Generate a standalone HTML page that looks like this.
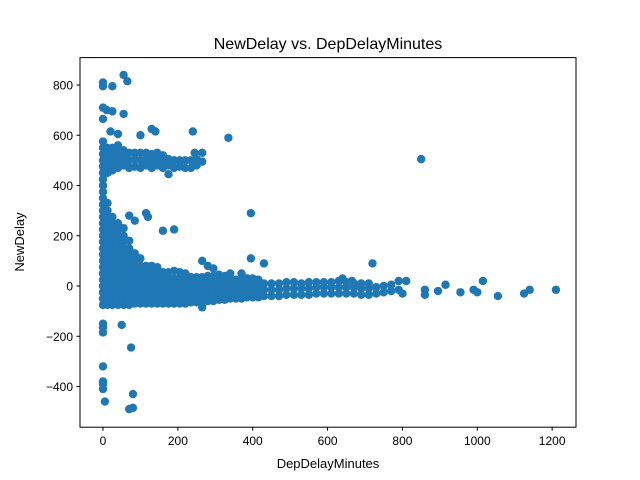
<!DOCTYPE html>
<html><head><meta charset="utf-8"><style>
body{margin:0;background:#fff}
svg{display:block;font-family:"Liberation Sans","DejaVu Sans",sans-serif}
</style></head><body>
<svg id="chart" width="640" height="480">
<rect width="640" height="480" fill="#fff"/>
<g id="marks"></g>
<rect x="80" y="57.6" width="496" height="369.6" fill="none" stroke="#000" stroke-width="1"/>
<g id="xt"></g>
<g id="yt"></g>
<text x="328" y="49" text-anchor="middle" font-size="16">NewDelay vs. DepDelayMinutes</text>
<text x="328" y="468" text-anchor="middle" font-size="13">DepDelayMinutes</text>
<text transform="translate(24,242) rotate(-90)" text-anchor="middle" font-size="13">NewDelay</text>
</svg>
<script>
const xTicks=[0,200,400,600,800,1000,1200];
const yTicks=[-400,-200,0,200,400,600,800];
const points=[
[0,-75],[0,-50],[0,-25],[0,0],[0,25],[0,50],[0,75],[0,100],[0,125],[0,150],[0,175],[0,200],[0,225],[0,250],[0,275],[0,300],[0,325],[0,350],[0,375],[0,400],[0,425],[0,450],[0,475],[0,500],[0,525],[0,550],[0,575],
[12,-75],[12,-50],[12,-25],[12,0],[12,25],[12,50],[12,75],[12,100],[12,125],[12,150],[12,175],[12,200],[12,225],[12,250],[12,275],[12,300],[12,330],[12,450],[12,475],[12,500],[12,525],[12,550],
[25,-75],[25,-50],[25,-25],[25,0],[25,25],[25,50],[25,75],[25,100],[25,125],[25,150],[25,175],[25,200],[25,225],[25,250],[25,275],[25,460],[25,490],[25,520],[25,550],
[40,-75],[40,-50],[40,-25],[40,0],[40,25],[40,50],[40,75],[40,100],[40,125],[40,150],[40,175],[40,200],[40,225],[40,250],[40,470],[40,500],[40,530],[40,560],
[55,-75],[55,-50],[55,-25],[55,0],[55,25],[55,50],[55,75],[55,100],[55,125],[55,150],[55,175],[55,200],[55,230],[55,480],[55,510],[55,540],
[70,-75],[70,-50],[70,-25],[70,0],[70,25],[70,50],[70,75],[70,100],[70,125],[70,150],[70,180],[70,280],[70,470],[70,500],[70,530],
[85,-70],[85,-45],[85,-20],[85,5],[85,30],[85,55],[85,80],[85,105],[85,130],[85,260],[85,475],[85,505],[85,530],
[100,-70],[100,-45],[100,-20],[100,5],[100,30],[100,55],[100,80],[100,110],[100,470],[100,500],[100,530],
[115,-70],[115,-45],[115,-20],[115,5],[115,30],[115,55],[115,80],[115,480],[115,505],[115,530],
[130,-70],[130,-45],[130,-20],[130,5],[130,30],[130,55],[130,80],[130,470],[130,500],[130,525],
[145,-70],[145,-45],[145,-20],[145,5],[145,30],[145,55],[145,75],[145,480],[145,505],[145,530],
[160,-70],[160,-45],[160,-20],[160,5],[160,30],[160,55],[160,470],[160,500],[160,520],
[175,-70],[175,-45],[175,-20],[175,5],[175,30],[175,55],[175,445],[175,480],[175,505],
[190,-70],[190,-45],[190,-20],[190,5],[190,30],[190,60],[190,470],[190,500],
[205,-70],[205,-45],[205,-20],[205,5],[205,30],[205,55],[205,475],[205,500],
[220,-70],[220,-45],[220,-20],[220,5],[220,30],[220,50],[220,470],[220,500],
[235,-65],[235,-40],[235,-15],[235,10],[235,35],[235,470],[235,500],
[250,-65],[250,-40],[250,-15],[250,10],[250,35],[250,480],[250,505],
[265,-65],[265,-40],[265,-15],[265,10],[265,35],[265,100],
[280,-60],[280,-35],[280,-10],[280,15],[280,40],[280,80],
[295,-60],[295,-35],[295,-10],[295,15],[295,40],[295,70],
[310,-55],[310,-30],[310,-5],[310,20],[310,45],
[325,-55],[325,-30],[325,-5],[325,20],[325,40],
[340,-50],[340,-25],[340,0],[340,25],[340,50],
[355,-50],[355,-25],[355,0],[355,25],
[370,-50],[370,-25],[370,0],[370,25],[370,50],
[385,-45],[385,-20],[385,5],[385,30],
[400,-45],[400,-20],[400,5],[400,30],
[415,-45],[415,-20],[415,5],[415,25],
[430,-40],[430,-15],[430,10],
[450,-40],[450,-15],[450,10],
[470,-40],[470,-15],[470,10],
[490,-35],[490,-10],[490,15],
[510,-35],[510,-10],[510,15],
[530,-35],[530,-10],[530,10],
[550,-35],[550,-10],[550,15],
[570,-30],[570,-5],[570,15],
[590,-30],[590,-5],[590,15],
[610,-30],[610,-5],[610,15],
[630,-30],[630,-5],[630,20],
[650,-30],[650,-5],[650,15],
[670,-30],[670,-5],[670,10],
[690,-35],[690,-10],[690,10],
[710,-35],[710,-10],[710,10],
[730,-30],[730,-5],[750,-25],[750,0],[770,-20],[770,5],[790,-15],[800,-30],
[0,810],[0,795],[25,795],[55,840],[65,815],[0,710],[10,700],[25,695],[55,685],[0,665],[20,615],[40,605],[100,600],[130,625],[140,615],[240,615],[335,590],[850,505],[395,290],[115,290],[120,275],[160,220],[190,225],[395,110],[430,90],[720,90],[245,530],[265,530],[265,495],
[0,-150],[0,-165],[0,-185],[50,-155],[75,-245],[0,-320],[0,-380],[0,-390],[0,-410],[5,-460],[80,-430],[70,-490],[80,-485],[265,-85],
[860,-15],[860,-35],[895,-20],[915,5],[955,-25],[990,-15],[1000,-25],[1015,20],[1055,-40],[1125,-30],[1140,-15],[1210,-15],[810,20],[790,20],[665,20],[640,30]
];
const sx=v=>103+v*0.3743;
const sy=v=>286-v*0.25125;
const NS="http://www.w3.org/2000/svg";
const marks=document.getElementById('marks');
points.forEach(p=>{
  const c=document.createElementNS(NS,'circle');
  c.setAttribute('cx',sx(p[0]));c.setAttribute('cy',sy(p[1]));c.setAttribute('r',4.2);
  c.setAttribute('fill','#1f77b4');
  
  
  marks.appendChild(c);
});
const xt=document.getElementById('xt');
xTicks.forEach(t=>{
  const x=sx(t);
  const l=document.createElementNS(NS,'line');
  l.setAttribute('x1',x);l.setAttribute('x2',x);l.setAttribute('y1',427.2);l.setAttribute('y2',430.7);l.setAttribute('stroke','#000');
  
  
  xt.appendChild(l);
  const s=document.createElementNS(NS,'text');
  s.setAttribute('x',x);s.setAttribute('y',445);s.setAttribute('text-anchor','middle');s.setAttribute('font-size','12');
  s.textContent=t;
  
  
  xt.appendChild(s);
});
const yt=document.getElementById('yt');
yTicks.forEach(t=>{
  const y=sy(t);
  const l=document.createElementNS(NS,'line');
  l.setAttribute('x1',76.5);l.setAttribute('x2',80);l.setAttribute('y1',y);l.setAttribute('y2',y);l.setAttribute('stroke','#000');
  
  
  yt.appendChild(l);
  const s=document.createElementNS(NS,'text');
  s.setAttribute('x',73);s.setAttribute('y',y+4.5);s.setAttribute('text-anchor','end');s.setAttribute('font-size','12');
  s.textContent=t<0?'\u2212'+(-t):t;
  
  
  yt.appendChild(s);
});
</script>
</body></html>
